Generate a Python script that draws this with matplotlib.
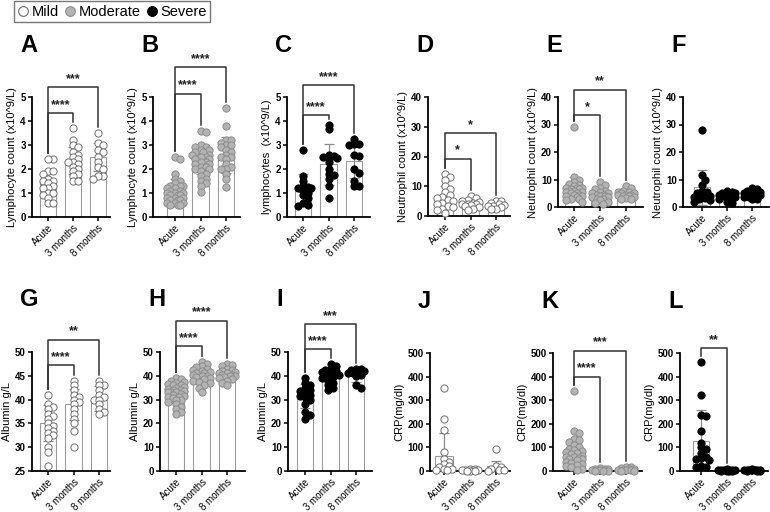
import numpy as np
import matplotlib.pyplot as plt
from matplotlib.lines import Line2D

plt.rcParams["font.family"] = ["Liberation Sans", "DejaVu Sans"]

W, H = 770, 512
groups = ["Acute", "3 months", "8 months"]

# ---- data ----
A_vals = [[2.4, 2.4, 1.9, 1.9, 1.8, 1.6, 1.5, 1.5, 1.4, 1.3, 1.2, 1.2, 1.0, 1.0, 0.9, 0.8, 0.6, 0.6],
          [3.7, 3.2, 3.0, 2.9, 2.7, 2.6, 2.5, 2.4, 2.3, 2.3, 2.2, 2.1, 2.0, 1.9, 1.8, 1.7, 1.5, 1.5],
          [3.5, 3.1, 3.0, 2.8, 2.7, 2.5, 2.3, 2.1, 2.0, 1.7, 1.7, 1.6]]
A_mean = [1.42, 2.35, 2.5]
A_sd = [0.5, 0.55, 0.58]
A_sig = [(0, 1, "****", 4.33), (0, 2, "***", 5.4)]

B_vals = [[2.5, 2.4, 1.8, 1.6, 1.5, 1.4, 1.3, 1.3, 1.3, 1.2, 1.2, 1.1, 1.1, 1.0, 1.0, 1.0, 0.9, 0.9,
           0.9, 0.8, 0.8, 0.8, 0.7, 0.7, 0.7, 0.6, 0.6, 0.6, 0.5, 0.5, 0.5],
          [3.6, 3.55, 3.0, 2.9, 2.9, 2.8, 2.8, 2.7, 2.7, 2.6, 2.6, 2.5, 2.5, 2.4, 2.4, 2.3, 2.3, 2.2,
           2.2, 2.1, 2.1, 2.0, 2.0, 1.9, 1.8, 1.7, 1.6, 1.5, 1.4, 1.3, 1.05],
          [4.55, 3.8, 3.2, 3.2, 3.1, 3.0, 3.0, 2.9, 2.8, 2.7, 2.6, 2.5, 2.5, 2.4, 2.2, 2.1, 2.0, 2.0,
           1.8, 1.6, 1.25]]
B_mean = [1.1, 2.35, 2.6]
B_sd = [0.5, 0.55, 0.75]
B_sig = [(0, 1, "****", 5.14), (0, 2, "****", 6.25)]

C_vals = [[2.8, 1.7, 1.5, 1.3, 1.25, 1.2, 1.2, 1.1, 1.0, 0.9, 0.8, 0.6, 0.5, 0.45],
          [3.85, 3.65, 2.6, 2.55, 2.5, 2.45, 2.3, 2.0, 1.8, 1.75, 1.6, 1.3, 0.8],
          [3.25, 3.05, 3.05, 3.0, 2.6, 2.55, 2.0, 1.85, 1.5, 1.3, 1.3]]
C_mean = [1.18, 2.2, 2.33]
C_sd = [0.6, 0.85, 0.7]
C_sig = [(0, 1, "****", 4.24), (0, 2, "****", 5.5)]

D_vals = [[14.2, 13, 12, 10, 9, 8, 7, 6.5, 6, 5.5, 5, 4.5, 4, 3.5, 3, 2.5, 2, 1],
          [6.8, 6, 5.5, 5, 4.8, 4.5, 4.2, 4, 4, 3.8, 3.5, 3, 2.5, 2],
          [5.2, 5, 4.5, 4, 3.8, 3.5, 3.2, 3, 2.5, 2.2]]
D_mean = [6.5, 4.3, 3.5]
D_sd = [3.7, 1.4, 1.0]
D_sig = [(0, 1, "*", 19.3), (0, 2, "*", 28.0)]

E_vals = [[29, 11, 10, 9, 8.5, 8, 7.5, 7, 7, 7, 6.5, 6.5, 6, 6, 5.5, 5.5, 5, 5, 4.5, 4.5, 4, 4,
           3.5, 3, 3, 2.5, 2],
          [9.2, 8, 7, 6.5, 6, 5.5, 5, 5, 4.5, 4.5, 4, 4, 3.5, 3.5, 3, 3, 2.5, 2, 1.5, 1],
          [7.5, 6.8, 6, 5.5, 5.5, 5, 5, 4.5, 4.5, 4.2, 4, 4, 3.5, 3.2, 3, 2.8]]
E_mean = [6.6, 4.3, 4.7]
E_sd = [4.2, 2.0, 1.3]
E_sig = [(0, 1, "*", 33.3), (0, 2, "**", 42.7)]

F_vals = [[28, 11.5, 10, 8, 6, 5.5, 5, 4.5, 4, 3.5, 3.2, 3, 2.5, 2],
          [6, 5.5, 5, 5, 4.8, 4.5, 4.5, 4.2, 4, 4, 3.5, 3.5, 3, 2, 1.5],
          [6.8, 6.5, 6, 5.5, 5, 5, 4.8, 4.5, 4.2, 4, 3.5, 3.5, 3, 3]]
F_mean = [7.2, 4.2, 4.6]
F_sd = [6.3, 1.1, 1.1]
F_sig = []

G_vals = [[41, 39, 38.5, 38, 37, 36.5, 36, 35, 34.5, 34, 33.5, 33, 32.5, 32, 30, 29, 26],
          [44, 43, 42, 41, 40.5, 40, 39.5, 39, 38, 37, 36, 35, 33.5, 30],
          [44, 43, 43, 42, 41, 40.5, 40, 40, 39, 38, 37.5, 37]]
G_mean = [35.0, 39.0, 40.2]
G_sd = [3.8, 3.3, 2.6]
G_sig = [(0, 1, "****", 47.2), (0, 2, "**", 52.6)]

H_vals = [[39, 38.5, 38, 37.5, 37, 36.5, 36, 36, 35.5, 35, 34.5, 34, 34, 33.5, 33, 33, 33, 32.5,
           32, 31.5, 31, 31, 30.5, 30, 30, 29, 28, 27, 26, 25, 24],
          [46, 45, 44, 43.5, 43, 42.5, 42, 41.5, 41, 41, 40.5, 40, 40, 39.5, 39, 38.5, 38, 37.5,
           37, 36, 35, 33],
          [45, 44.5, 44, 43, 42.5, 42, 41.5, 41, 41, 40.5, 40.5, 40, 40, 39.5, 39, 38.5, 38, 37, 36]]
H_mean = [32.7, 40.0, 40.5]
H_sd = [4.0, 3.0, 2.5]
H_sig = [(0, 1, "****", 52.4), (0, 2, "****", 63.2)]

I_vals = [[39, 37, 36, 35, 34, 33.5, 33, 32, 31.5, 31, 30, 28, 25, 23.5, 22],
          [45, 44, 43, 42.5, 42, 41.5, 41, 40.5, 40, 39.5, 39, 38, 37, 36, 35, 34],
          [43, 43, 42.5, 42, 41.5, 41, 41, 40.5, 40, 36, 35]]
I_mean = [31.5, 40.2, 40.0]
I_sd = [5.0, 3.0, 2.7]
I_sig = [(0, 1, "****", 51.3), (0, 2, "***", 61.8)]

J_vals = [[350, 220, 175, 80, 50, 40, 30, 20, 15, 10, 8, 5, 3],
          [10, 8, 6, 5, 4, 3, 2, 2, 1],
          [95, 20, 15, 10, 5, 3, 2]]
J_mean = [63, 5, 20]
J_sd = [100, 4, 22]
J_sig = []

K_vals = [[340, 170, 160, 135, 130, 125, 110, 100, 95, 90, 85, 80, 75, 70, 65, 60, 60, 55, 50, 50,
           45, 40, 35, 30, 25, 20, 15, 10, 5],
          [12, 10, 8, 7, 5, 5, 4, 3, 3, 2, 2, 1],
          [18, 15, 12, 10, 8, 6, 5, 4, 3, 2, 1]]
K_mean = [74, 5, 7]
K_sd = [60, 4, 5]
K_sig = [(0, 1, "****", 400), (0, 2, "***", 510)]

L_vals = [[462, 322, 238, 232, 170, 120, 100, 95, 75, 60, 55, 50, 45, 20, 18, 15],
          [8, 6, 5, 4, 4, 3, 3, 2, 2, 1, 1],
          [7, 6, 5, 5, 4, 4, 3, 3, 2, 2, 1]]
L_mean = [127, 3, 4]
L_sd = [130, 2, 2]
L_sig = [(0, 1, "**", 521)]

lymph = "Lymphocyte count (x10^9/L)"
neut = "Neutrophil count (x10^9/L)"

# letter, values, mean, sd, significance, severity, ylabel, yticks,
# box in pixels: (spine x, first bar x, last bar x, right end x, top y, bottom y)
panels = [
    ("A", A_vals, A_mean, A_sd, A_sig, "mild", lymph, [0, 1, 2, 3, 4, 5], (32, 48, 98, 110, 97, 217)),
    ("B", B_vals, B_mean, B_sd, B_sig, "moderate", lymph, [0, 1, 2, 3, 4, 5], (153, 175, 226, 240, 97, 217)),
    ("C", C_vals, C_mean, C_sd, C_sig, "severe", "lymphocytes  (x10^9/L)", [0, 1, 2, 3, 4, 5], (287, 303, 354, 370, 97, 217)),
    ("D", D_vals, D_mean, D_sd, D_sig, "mild", neut, [0, 10, 20, 30, 40], (428, 445, 496, 510, 97, 216)),
    ("E", E_vals, E_mean, E_sd, E_sig, "moderate", neut, [0, 10, 20, 30, 40], (558, 574, 626, 643, 97, 207)),
    ("F", F_vals, F_mean, F_sd, F_sig, "severe", neut, [0, 10, 20, 30, 40], (683, 702, 752, 769, 97, 207)),
    ("G", G_vals, G_mean, G_sd, G_sig, "mild", "Albumin g/L", [25, 30, 35, 40, 45, 50], (32, 48, 99, 110, 352, 471)),
    ("H", H_vals, H_mean, H_sd, H_sig, "moderate", "Albumin g/L", [0, 10, 20, 30, 40, 50], (160, 176, 227, 245, 352, 471)),
    ("I", I_vals, I_mean, I_sd, I_sig, "severe", "Albumin g/L", [0, 10, 20, 30, 40, 50], (288, 305, 356, 372, 352, 471)),
    ("J", J_vals, J_mean, J_sd, J_sig, "mild", "CRP(mg/dl)", [0, 100, 200, 300, 400, 500], (430, 444, 496, 510, 353, 471)),
    ("K", K_vals, K_mean, K_sd, K_sig, "moderate", "CRP(mg/dl)", [0, 100, 200, 300, 400, 500], (553, 574, 626, 642, 353, 471)),
    ("L", L_vals, L_mean, L_sd, L_sig, "severe", "CRP(mg/dl)", [0, 100, 200, 300, 400, 500], (680, 701, 752, 768, 353, 471)),
]

styles = {
    "mild": dict(fc="white", ec="#6e6e6e"),
    "moderate": dict(fc="#b4b4b4", ec="#8c8c8c"),
    "severe": dict(fc="black", ec="black"),
}


def swarm(vals, ppu, d=4.5, maxw=10.0):
    # horizontal offsets in pixels, points may overlap a little (GraphPad style)
    order = np.argsort(vals)[::-1]
    placed = []
    offs = np.zeros(len(vals))
    cands = [0.0]
    k = 1
    while k * d * 0.6 <= maxw:
        cands += [k * d * 0.6, -k * d * 0.6]
        k += 1
    for i in order:
        y = vals[i] * ppu
        best, best_dist = 0.0, -1.0
        for c in cands:
            dist = min([np.hypot(c - px, y - py) for px, py in placed] or [99.0])
            if dist >= d:
                best = c
                break
            if dist > best_dist:
                best, best_dist = c, dist
        offs[i] = best
        placed.append((best, y))
    return offs


fig = plt.figure(figsize=(W / 100, H / 100), dpi=100)

for letter, vals, mean, sd, sig, sev, ylab, yt, box in panels:
    sx, b0, b2, ex, top, bot = box
    ax = fig.add_axes([sx / W, 1 - bot / H, (ex - sx) / W, (bot - top) / H])
    unit = (b2 - b0) / 2
    ax.set_xlim(-(b0 - sx) / unit, 2 + (ex - b2) / unit)
    ymin, ymax = yt[0], yt[-1]
    ax.set_ylim(ymin, ymax)
    ppu = (bot - top) / (ymax - ymin)

    x = np.arange(3)
    ax.bar(x, np.array(mean) - ymin, bottom=ymin, width=0.66, color="white",
           edgecolor="#9a9a9a", linewidth=0.8, zorder=1)
    ax.errorbar(x, mean, yerr=sd, fmt="none", ecolor="#8a8a8a", elinewidth=0.9,
                capsize=3.5, capthick=0.9, zorder=2)
    st = styles[sev]
    for i, v in enumerate(vals):
        v = np.array(v, dtype=float)
        offs = swarm(v, ppu) / unit
        ax.scatter(i + offs, v, s=27, facecolor=st["fc"], edgecolor=st["ec"],
                   linewidth=0.7, zorder=3, clip_on=False)

    gap = 6 / ppu
    for a, b, stars, h in sig:
        la = max(max(vals[a]), mean[a] + sd[a]) + gap
        lb = max(max(vals[b]), mean[b] + sd[b]) + gap
        ax.plot([a, a, b, b], [la, h, h, lb], color="#333333", lw=1.1,
                clip_on=False, zorder=4)
        ax.text((a + b) / 2, h + 2 / ppu, stars, ha="center", va="bottom",
                fontsize=9, fontweight="bold", color="#222222")

    ax.spines["top"].set_visible(False)
    ax.spines["right"].set_visible(False)
    ax.spines["left"].set_linewidth(1.3)
    ax.spines["bottom"].set_linewidth(1.3)
    ax.set_yticks(yt)
    ax.set_yticklabels([str(t) for t in yt], fontsize=7, fontweight="bold")
    ax.set_xticks(x)
    ax.set_xticklabels(groups, fontsize=7, rotation=45, ha="right",
                       rotation_mode="anchor")
    ax.tick_params(axis="both", width=1.1, length=3, pad=1.5)
    ax.set_ylabel(ylab, fontsize=8, labelpad=2)

    fig.text((sx - 12) / W, 1 - (top - 52) / H, letter, fontsize=17,
             fontweight="bold", ha="left", va="center")

handles = [
    Line2D([], [], ls="none", marker="o", ms=7, mfc=styles[k]["fc"], mec=styles[k]["ec"], mew=0.8)
    for k in ["mild", "moderate", "severe"]
]
fig.legend(handles, ["Mild", "Moderate", "Severe"], loc="upper left",
           bbox_to_anchor=(14 / W, 1 - 1 / H), ncol=3, fontsize=10.5,
           frameon=True, fancybox=False, edgecolor="#555555",
           handlelength=0.8, handletextpad=0.15, columnspacing=0.4,
           borderpad=0.25, borderaxespad=0)

fig.savefig("out.png", dpi=100)
